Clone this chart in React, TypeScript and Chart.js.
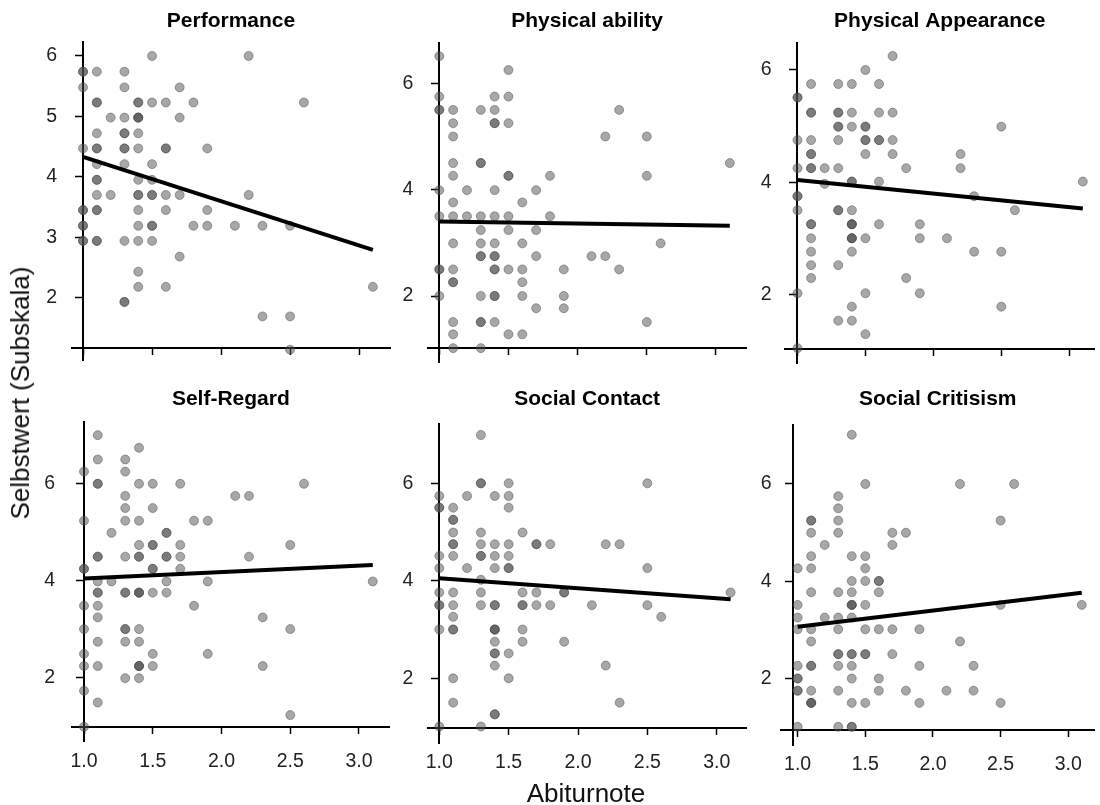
import { useEffect, useRef } from 'react';
import Chart from 'chart.js/auto';

type Pt = [number, number, number?];

const panelTitles = ['Performance', 'Physical ability', 'Physical Appearance', 'Self-Regard', 'Social Contact', 'Social Critisism'];
const xTickValues = [1.0, 1.5, 2.0, 2.5, 3.0];
const yTicksPerformance = [2, 3, 4, 5, 6];
const yTicksOther = [2, 4, 6];
const yAxisTitle = 'Selbstwert (Subskala)';
const xAxisTitle = 'Abiturnote';

// [Abiturnote, Subskala score, number of coinciding respondents]
const performance: Pt[] = [
  [1.0, 5.74, 2], [1.0, 5.48], [1.0, 4.47], [1.0, 3.45, 2], [1.0, 3.19, 2], [1.0, 2.94, 2],
  [1.1, 5.74], [1.1, 5.23, 2], [1.1, 4.72], [1.1, 4.47, 2], [1.1, 4.21], [1.1, 3.95, 2], [1.1, 3.70], [1.1, 3.45, 2], [1.1, 2.94, 2],
  [1.2, 4.98], [1.2, 3.70],
  [1.3, 5.74], [1.3, 5.48], [1.3, 4.98], [1.3, 4.72, 2], [1.3, 4.47, 2], [1.3, 4.21], [1.3, 2.94], [1.3, 1.93, 2],
  [1.4, 5.23, 2], [1.4, 4.98, 3], [1.4, 4.72], [1.4, 4.47], [1.4, 3.95], [1.4, 3.70, 2], [1.4, 3.45], [1.4, 3.19], [1.4, 2.94], [1.4, 2.43], [1.4, 2.18],
  [1.5, 6.0], [1.5, 5.23], [1.5, 4.21], [1.5, 3.95], [1.5, 3.70, 2], [1.5, 3.19, 2], [1.5, 2.94],
  [1.6, 5.23], [1.6, 4.47, 2], [1.6, 3.70], [1.6, 3.45], [1.6, 2.18],
  [1.7, 5.48], [1.7, 4.98], [1.7, 3.70], [1.7, 2.68],
  [1.8, 5.23], [1.8, 3.19],
  [1.9, 4.47], [1.9, 3.45], [1.9, 3.19],
  [2.1, 3.19],
  [2.2, 6.0], [2.2, 3.70],
  [2.3, 3.19], [2.3, 1.69],
  [2.5, 3.19], [2.5, 1.69], [2.5, 1.14],
  [2.6, 5.23],
  [3.1, 2.18],
];

const physicalAbility: Pt[] = [
  [1.0, 6.51], [1.0, 5.75], [1.0, 5.50, 2], [1.0, 3.99], [1.0, 3.50], [1.0, 2.50, 2], [1.0, 2.0],
  [1.1, 5.50], [1.1, 5.25], [1.1, 5.0], [1.1, 4.50], [1.1, 4.26], [1.1, 3.76], [1.1, 3.50], [1.1, 2.99], [1.1, 2.50], [1.1, 2.26, 2], [1.1, 1.51], [1.1, 1.28], [1.1, 1.02],
  [1.2, 3.99], [1.2, 3.50],
  [1.3, 5.50], [1.3, 4.50, 2], [1.3, 3.50], [1.3, 3.24], [1.3, 2.99], [1.3, 2.75, 2], [1.3, 2.0], [1.3, 1.51, 2], [1.3, 1.02],
  [1.4, 5.75], [1.4, 5.50], [1.4, 5.25, 2], [1.4, 3.99], [1.4, 3.50], [1.4, 2.99], [1.4, 2.75, 2], [1.4, 2.50, 2], [1.4, 2.0, 2], [1.4, 1.51],
  [1.5, 6.25], [1.5, 5.75], [1.5, 5.25], [1.5, 4.26, 2], [1.5, 3.50], [1.5, 3.24], [1.5, 2.50], [1.5, 1.28],
  [1.6, 3.76], [1.6, 2.99], [1.6, 2.50], [1.6, 2.26], [1.6, 2.0], [1.6, 1.28],
  [1.7, 3.99], [1.7, 3.24], [1.7, 2.75], [1.7, 1.77],
  [1.8, 4.26], [1.8, 3.50],
  [1.9, 2.50], [1.9, 2.0], [1.9, 1.77],
  [2.1, 2.75],
  [2.2, 5.0], [2.2, 2.75],
  [2.3, 5.50], [2.3, 2.50],
  [2.5, 5.0], [2.5, 4.26], [2.5, 1.51],
  [2.6, 2.99],
  [3.1, 4.50],
];

const physicalAppearance: Pt[] = [
  [1.0, 5.51, 2], [1.0, 4.75], [1.0, 4.25], [1.0, 3.75, 2], [1.0, 3.50], [1.0, 2.02], [1.0, 1.04],
  [1.1, 5.75], [1.1, 5.24, 2], [1.1, 4.75], [1.1, 4.50, 2], [1.1, 4.25, 2], [1.1, 3.25, 2], [1.1, 3.0], [1.1, 2.76], [1.1, 2.52], [1.1, 2.29],
  [1.2, 4.25], [1.2, 3.97],
  [1.3, 5.75], [1.3, 5.24, 2], [1.3, 4.99, 2], [1.3, 4.75], [1.3, 4.25], [1.3, 3.50, 2], [1.3, 2.52], [1.3, 1.53],
  [1.4, 5.75], [1.4, 5.24], [1.4, 4.99], [1.4, 4.01, 2], [1.4, 3.50], [1.4, 3.25, 3], [1.4, 3.0, 3], [1.4, 2.76], [1.4, 1.78], [1.4, 1.53],
  [1.5, 6.0], [1.5, 4.99, 2], [1.5, 4.75, 2], [1.5, 4.50], [1.5, 3.0], [1.5, 2.02], [1.5, 1.29],
  [1.6, 5.75], [1.6, 5.24], [1.6, 4.75, 2], [1.6, 4.01], [1.6, 3.25],
  [1.7, 6.25], [1.7, 5.24], [1.7, 4.75], [1.7, 4.50],
  [1.8, 4.25], [1.8, 2.29],
  [1.9, 3.25], [1.9, 3.0], [1.9, 2.02],
  [2.1, 3.0],
  [2.2, 4.50], [2.2, 4.25],
  [2.3, 3.75], [2.3, 2.76],
  [2.5, 4.99], [2.5, 2.76], [2.5, 1.78],
  [2.6, 3.50],
  [3.1, 4.01],
];

const selfRegard: Pt[] = [
  [1.0, 6.24], [1.0, 5.23], [1.0, 4.24, 2], [1.0, 3.48], [1.0, 3.0], [1.0, 2.49], [1.0, 2.24], [1.0, 1.73], [1.0, 0.99],
  [1.1, 6.99], [1.1, 6.49], [1.1, 5.99, 2], [1.1, 4.49, 2], [1.1, 3.98], [1.1, 3.75, 2], [1.1, 3.48], [1.1, 3.24], [1.1, 2.74], [1.1, 2.24], [1.1, 1.49],
  [1.2, 4.98], [1.2, 3.98],
  [1.3, 6.49], [1.3, 6.24], [1.3, 5.74], [1.3, 5.49], [1.3, 5.23], [1.3, 4.49], [1.3, 3.75, 2], [1.3, 3.0, 2], [1.3, 2.74], [1.3, 1.99],
  [1.4, 6.73], [1.4, 5.99], [1.4, 5.23], [1.4, 4.73], [1.4, 4.49, 2], [1.4, 3.75, 3], [1.4, 3.0], [1.4, 2.74], [1.4, 2.24, 3], [1.4, 1.99],
  [1.5, 5.99], [1.5, 5.49], [1.5, 4.73, 2], [1.5, 4.24, 2], [1.5, 3.75], [1.5, 2.49], [1.5, 2.24],
  [1.6, 4.98, 2], [1.6, 4.49, 2], [1.6, 3.98], [1.6, 3.75],
  [1.7, 5.99], [1.7, 4.73], [1.7, 4.49], [1.7, 4.24],
  [1.8, 5.23], [1.8, 3.48],
  [1.9, 5.23], [1.9, 3.98], [1.9, 2.49],
  [2.1, 5.74],
  [2.2, 5.74], [2.2, 4.49],
  [2.3, 3.24], [2.3, 2.24],
  [2.5, 4.73], [2.5, 3.0], [2.5, 1.23],
  [2.6, 5.99],
  [3.1, 3.98],
];

const socialContact: Pt[] = [
  [1.0, 5.74], [1.0, 5.50, 2], [1.0, 4.51], [1.0, 4.26], [1.0, 3.76], [1.0, 3.50, 2], [1.0, 3.0], [1.0, 1.01],
  [1.1, 5.50], [1.1, 5.25, 2], [1.1, 4.99], [1.1, 4.75, 2], [1.1, 4.51], [1.1, 3.76], [1.1, 3.50], [1.1, 3.26], [1.1, 3.0, 2], [1.1, 2.0], [1.1, 1.50],
  [1.2, 5.74], [1.2, 4.26],
  [1.3, 6.99], [1.3, 6.0, 2], [1.3, 4.99], [1.3, 4.75], [1.3, 4.51, 2], [1.3, 4.02], [1.3, 3.76], [1.3, 3.50], [1.3, 1.01],
  [1.4, 5.74], [1.4, 4.75], [1.4, 4.51], [1.4, 4.26], [1.4, 3.50, 2], [1.4, 3.0, 3], [1.4, 2.75], [1.4, 2.51, 2], [1.4, 2.26], [1.4, 1.26, 2],
  [1.5, 6.0], [1.5, 5.74], [1.5, 5.50], [1.5, 4.75], [1.5, 4.51], [1.5, 4.26, 2], [1.5, 2.51], [1.5, 2.0],
  [1.6, 4.99], [1.6, 3.76], [1.6, 3.50, 2], [1.6, 3.0], [1.6, 2.75],
  [1.7, 4.75, 2], [1.7, 3.76], [1.7, 3.50],
  [1.8, 4.75], [1.8, 3.50],
  [1.9, 3.76, 2], [1.9, 2.75],
  [2.1, 3.50],
  [2.2, 4.75], [2.2, 2.26],
  [2.3, 4.75], [2.3, 1.50],
  [2.5, 6.0], [2.5, 4.26], [2.5, 3.50],
  [2.6, 3.26],
  [3.1, 3.76],
];

const socialCriticism: Pt[] = [
  [1.0, 4.27], [1.0, 3.52], [1.0, 3.26], [1.0, 3.02], [1.0, 2.27], [1.0, 2.01, 2], [1.0, 1.76, 2], [1.0, 1.02],
  [1.1, 5.25, 2], [1.1, 5.0], [1.1, 4.52], [1.1, 4.27], [1.1, 3.78], [1.1, 3.02], [1.1, 2.77], [1.1, 2.27, 2], [1.1, 1.76], [1.1, 1.51, 3],
  [1.2, 4.75], [1.2, 3.26],
  [1.3, 5.75], [1.3, 5.50], [1.3, 5.25], [1.3, 5.0], [1.3, 3.78], [1.3, 3.26], [1.3, 3.02], [1.3, 2.51, 2], [1.3, 2.27], [1.3, 1.76], [1.3, 1.02],
  [1.4, 7.01], [1.4, 4.52], [1.4, 4.01], [1.4, 3.78], [1.4, 3.52, 3], [1.4, 3.26], [1.4, 2.51, 2], [1.4, 2.27], [1.4, 2.01], [1.4, 1.51], [1.4, 1.02, 2],
  [1.5, 6.0], [1.5, 4.52], [1.5, 4.27], [1.5, 4.01], [1.5, 3.52], [1.5, 3.02], [1.5, 2.51, 2], [1.5, 1.51],
  [1.6, 4.01, 2], [1.6, 3.78], [1.6, 3.02], [1.6, 2.01], [1.6, 1.76],
  [1.7, 5.0], [1.7, 4.75], [1.7, 3.02], [1.7, 2.51],
  [1.8, 5.0], [1.8, 1.76],
  [1.9, 3.02], [1.9, 2.27], [1.9, 1.51],
  [2.1, 1.76],
  [2.2, 6.0], [2.2, 2.77],
  [2.3, 2.27], [2.3, 1.76],
  [2.5, 5.25], [2.5, 3.52], [2.5, 1.51],
  [2.6, 6.0],
  [3.1, 3.52],
];

// regression line end points [Abiturnote, fitted score]
const performanceTrend = [[1.0, 4.33], [3.1, 2.79]];
const physicalAbilityTrend = [[1.0, 3.40], [3.1, 3.32]];
const physicalAppearanceTrend = [[1.0, 4.04], [3.1, 3.53]];
const selfRegardTrend = [[1.0, 4.04], [3.1, 4.32]];
const socialContactTrend = [[1.0, 4.05], [3.1, 3.62]];
const socialCriticismTrend = [[1.0, 3.07], [3.1, 3.77]];

const allPoints = [performance, physicalAbility, physicalAppearance, selfRegard, socialContact, socialCriticism];
const allTrends = [performanceTrend, physicalAbilityTrend, physicalAppearanceTrend, selfRegardTrend, socialContactTrend, socialCriticismTrend];
const allYTicks = [yTicksPerformance, yTicksOther, yTicksOther, yTicksOther, yTicksOther, yTicksOther];

// layout: chart area in px [left, top, right, bottom], scale ranges, axis crossings, y-label padding
const panelLayout = [
  { area: [72, 42, 390, 360], x: [0.920, 3.224], y: [0.969, 6.231], xAxisAt: 1.173, yAxisAt: 1.0, titleY: 21, xLabels: false, yLabelPad: 15 },
  { area: [428.3, 43.3, 746, 362.7], x: [0.9205, 3.217], y: [0.746, 6.752], xAxisAt: 1.02, yAxisAt: 1.0, titleY: 21, xLabels: false, yLabelPad: 15 },
  { area: [785, 43.3, 1100, 363.3], x: [0.908, 3.186], y: [0.770, 6.476], xAxisAt: 1.02, yAxisAt: 1.0, titleY: 21, xLabels: false, yLabelPad: 13.3 },
  { area: [71.7, 421.7, 390, 741], x: [0.9105, 3.2255], y: [0.697, 7.267], xAxisAt: 0.99, yAxisAt: 1.0, titleY: 399.5, xLabels: true, yLabelPad: 16.7 },
  { area: [428.3, 424.3, 746, 743.3], x: [0.9207, 3.211], y: [0.666, 7.210], xAxisAt: 0.974, yAxisAt: 1.0, titleY: 399.5, xLabels: true, yLabelPad: 15 },
  { area: [781, 425, 1100, 745], x: [0.877, 3.194], y: [0.646, 7.210], xAxisAt: 0.954, yAxisAt: 0.967, titleY: 399.5, xLabels: true, yLabelPad: 9.3 },
];

const W = 1100;
const H = 805;
const LABEL_BOX = 50;
const FONT = "'Liberation Sans', Arial, Helvetica, sans-serif";
const TITLE_SIZE = 21;
const TICK_SIZE = 19.5;

function expand(pts: Pt[]) {
  const out: { x: number; y: number }[] = [];
  pts.forEach(([x, y, n]) => {
    for (let i = 0; i < (n ?? 1); i++) out.push({ x, y });
  });
  return out;
}

function Panel({ idx }: { idx: number }) {
  const ref = useRef<HTMLCanvasElement>(null);
  useEffect(() => {
    const L = panelLayout[idx];
    const [left, top, right, bottom] = L.area;
    const titleLH = TITLE_SIZE * 1.2;
    const padTop = L.titleY - titleLH / 2;
    const yTicks = allYTicks[idx];
    const setYTicks = (axis: any) => {
      axis.ticks = yTicks.map((v) => ({ value: v }));
    };
    const chart = new Chart(ref.current as HTMLCanvasElement, {
      type: 'scatter',
      data: {
        datasets: [
          {
            data: allTrends[idx].map(([x, y]) => ({ x, y })),
            showLine: true,
            borderColor: '#000',
            borderWidth: 4,
            pointRadius: 0,
            order: 0,
          },
          {
            data: expand(allPoints[idx]),
            pointRadius: 4.5,
            backgroundColor: 'rgba(80,80,80,0.5)',
            borderColor: 'rgba(70,70,70,0.45)',
            borderWidth: 1,
            order: 1,
          },
        ],
      },
      options: {
        responsive: false,
        animation: false,
        events: [],
        layout: { padding: { left: left - LABEL_BOX, top: padTop, right: W - right, bottom: H - bottom } },
        plugins: {
          legend: { display: false },
          tooltip: { enabled: false },
          title: {
            display: true,
            fullSize: false,
            text: panelTitles[idx],
            color: '#000',
            font: { family: FONT, size: TITLE_SIZE, weight: 'bold' },
            padding: { top: 0, bottom: top - padTop - titleLH },
          },
        },
        scales: {
          x: {
            type: 'linear',
            min: L.x[0],
            max: L.x[1],
            position: { y: L.xAxisAt },
            afterBuildTicks: (axis: any) => {
              axis.ticks = xTickValues.map((v) => ({ value: v }));
            },
            grid: { drawOnChartArea: false, drawTicks: true, tickLength: 6, tickColor: '#000', tickWidth: 1.5 },
            border: { display: true, color: '#000', width: 2 },
            ticks: {
              display: L.xLabels,
              autoSkip: false,
              maxRotation: 0,
              padding: 17,
              color: '#222',
              font: { family: FONT, size: TICK_SIZE },
              callback: (v: any) => Number(v).toFixed(1),
            },
          },
          y: {
            type: 'linear',
            min: L.y[0],
            max: L.y[1],
            position: { x: L.yAxisAt },
            afterBuildTicks: setYTicks,
            grid: { drawOnChartArea: false, drawTicks: true, tickLength: 7, tickColor: '#000', tickWidth: 1.5 },
            border: { display: true, color: '#000', width: 2 },
            ticks: { display: false },
          },
          yl: {
            type: 'linear',
            axis: 'y',
            position: 'left',
            min: L.y[0],
            max: L.y[1],
            afterBuildTicks: setYTicks,
            afterFit: (s: any) => {
              s.width = LABEL_BOX;
            },
            grid: { display: false, drawTicks: false },
            border: { display: false },
            ticks: {
              autoSkip: false,
              padding: L.yLabelPad,
              color: '#222',
              font: { family: FONT, size: TICK_SIZE },
              callback: (v: any) => String(v),
            },
          },
        },
      } as any,
    });
    return () => chart.destroy();
  }, [idx]);
  return <canvas ref={ref} width={W} height={H} style={{ position: 'absolute', left: 0, top: 0 }} />;
}

export default function App() {
  return (
    <div style={{ position: 'absolute', left: 0, top: 0, width: W, height: H, background: '#fff', overflow: 'hidden' }}>
      {panelTitles.map((_, i) => (
        <Panel key={i} idx={i} />
      ))}
      <div
        style={{
          position: 'absolute',
          left: 20,
          top: 393,
          transform: 'translate(-50%, -50%) rotate(-90deg)',
          whiteSpace: 'nowrap',
          fontFamily: FONT,
          fontSize: 26,
          lineHeight: '26px',
          color: '#111',
        }}
      >
        {yAxisTitle}
      </div>
      <div
        style={{
          position: 'absolute',
          left: 586,
          top: 780,
          transform: 'translateX(-50%)',
          whiteSpace: 'nowrap',
          fontFamily: FONT,
          fontSize: 26,
          lineHeight: '26px',
          color: '#111',
        }}
      >
        {xAxisTitle}
      </div>
    </div>
  );
}
